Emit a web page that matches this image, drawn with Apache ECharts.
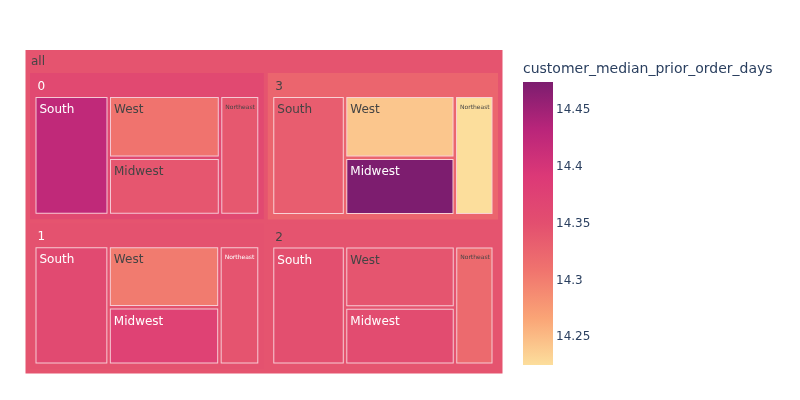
<!DOCTYPE html>
<html>
<head>
<meta charset="utf-8">
<script src="https://cdn.jsdelivr.net/npm/echarts@6/dist/echarts.min.js"></script>
<style>
  html, body { margin: 0; padding: 0; background: #fff; }
  #chart { width: 800px; height: 400px; }
</style>
</head>
<body>
<div id="chart"></div>
<script>
// customer segments (cluster) split by region
const clusters = ['0', '1', '2', '3'];
const regions = ['South', 'West', 'Midwest', 'Northeast'];

// number of customers per cluster / region (tile size)
const customerCounts = [
  [8300, 6450, 5950, 4400],
  [8250, 6350, 5950, 4450],
  [8100, 6300, 5900, 4300],
  [8150, 6350, 5900, 4350],
];

// median days since prior order per cluster / region (tile colour)
const medianPriorDays = [
  [14.425, 14.31, 14.342, 14.34],
  [14.36, 14.303, 14.375, 14.345],
  [14.35, 14.343, 14.355, 14.32],
  [14.335, 14.2425, 14.4745, 14.2258],
];

const colorMin = 14.2256;
const colorMax = 14.4749;
const colorTicks = [14.25, 14.3, 14.35, 14.4, 14.45];
const colorTitle = 'customer_median_prior_order_days';

// plotly "Sunsetdark"
const sunsetdark = ['#fcde9c', '#faa476', '#f0746e', '#e34f6f', '#dc3977', '#b9257a', '#7c1d6f'];

function hexToRgb(h) {
  return [1, 3, 5].map((i) => parseInt(h.slice(i, i + 2), 16));
}

function colorAt(v) {
  let t = (v - colorMin) / (colorMax - colorMin);
  t = Math.max(0, Math.min(1, t));
  const pos = t * (sunsetdark.length - 1);
  const i = Math.min(Math.floor(pos), sunsetdark.length - 2);
  const f = pos - i;
  const a = hexToRgb(sunsetdark[i]);
  const b = hexToRgb(sunsetdark[i + 1]);
  const c = a.map((x, k) => Math.round(x + (b[k] - x) * f));
  return `rgb(${c[0]},${c[1]},${c[2]})`;
}

function textColor(v) {
  return v >= 14.345 ? '#ffffff' : '#444444';
}

function weighted(sizes, vals) {
  let s = 0, w = 0;
  sizes.forEach((x, i) => { s += x * vals[i]; w += x; });
  return s / w;
}

const groupNodes = clusters.map((c, gi) => {
  const sizes = customerCounts[gi];
  const vals = medianPriorDays[gi];
  const gv = weighted(sizes, vals);
  const children = regions.map((r, ri) => {
    const narrow = r === 'Northeast';
    return {
      name: r,
      value: sizes[ri],
      itemStyle: { color: colorAt(vals[ri]) },
      label: {
        color: textColor(vals[ri]),
        fontSize: narrow ? 6 : 12,
        lineHeight: narrow ? 8 : 14,
      },
    };
  });
  const total = sizes.reduce((a, b) => a + b, 0);
  return {
    name: c,
    value: total,
    avg: gv,
    itemStyle: { color: colorAt(gv), borderColor: colorAt(gv) },
    upperLabel: { color: textColor(gv) },
    children,
  };
});

const allTotal = groupNodes.reduce((a, g) => a + g.value, 0);
const allAvg = groupNodes.reduce((a, g) => a + g.value * g.avg, 0) / allTotal;

const treeData = [{
  name: 'all',
  value: allTotal,
  itemStyle: { color: colorAt(allAvg), borderColor: colorAt(allAvg) },
  upperLabel: { color: textColor(allAvg) },
  children: groupNodes,
}];

const chart = echarts.init(document.getElementById('chart'));

chart.setOption({
  animation: false,
  textStyle: { fontFamily: 'DejaVu Sans' },
  title: {
    text: colorTitle,
    left: 523,
    top: 62,
    padding: 0,
    textStyle: { fontSize: 14, fontWeight: 'normal', color: '#2a3f5f', fontFamily: 'DejaVu Sans' },
  },
  grid: { left: 523, top: 82, width: 30, height: 283 },
  xAxis: { type: 'category', data: [''], show: false },
  yAxis: {
    type: 'value',
    position: 'right',
    min: colorMin,
    max: colorMax,
    axisLine: { show: false },
    axisTick: { show: false },
    splitLine: { show: false },
    axisLabel: {
      customValues: colorTicks,
      margin: 3,
      fontSize: 12,
      color: '#2a3f5f',
      fontFamily: 'DejaVu Sans',
      formatter: (v) => String(+Number(v).toFixed(4)),
    },
  },
  graphic: [{
    type: 'rect',
    left: 523,
    top: 82,
    shape: { width: 30, height: 283 },
    style: {
      fill: new echarts.graphic.LinearGradient(0, 1, 0, 0,
        sunsetdark.map((c, i) => ({ offset: i / (sunsetdark.length - 1), color: c }))),
    },
    silent: true,
  }],
  series: [{
    type: 'treemap',
    left: 25.5,
    top: 50,
    width: 477,
    height: 323.5,
    roam: false,
    nodeClick: false,
    squareRatio: 1,
    sort: 'desc',
    visibleMin: 0,
    breadcrumb: { show: false },
    emphasis: { disabled: true },
    label: {
      show: true,
      position: [3, 5],
      padding: 0,
      fontSize: 12,
      lineHeight: 14,
      align: 'left',
      verticalAlign: 'top',
      fontFamily: 'DejaVu Sans',
      overflow: 'truncate',
    },
    levels: [
      { itemStyle: { borderWidth: 0, gapWidth: 0 } },
      {
        itemStyle: { borderWidth: 4.5, gapWidth: 4 },
        upperLabel: { show: true, height: 23, fontSize: 12, position: [1, 12], fontFamily: 'DejaVu Sans' },
      },
      {
        itemStyle: { borderWidth: 5.5, gapWidth: 2.5 },
        upperLabel: { show: true, height: 24, fontSize: 12, position: [2, 14], fontFamily: 'DejaVu Sans' },
      },
      {
        itemStyle: { borderWidth: 1, borderColor: 'rgba(255,255,255,0.7)', gapWidth: 0 },
      },
    ],
    data: treeData,
  }],
});
</script>
</body>
</html>
